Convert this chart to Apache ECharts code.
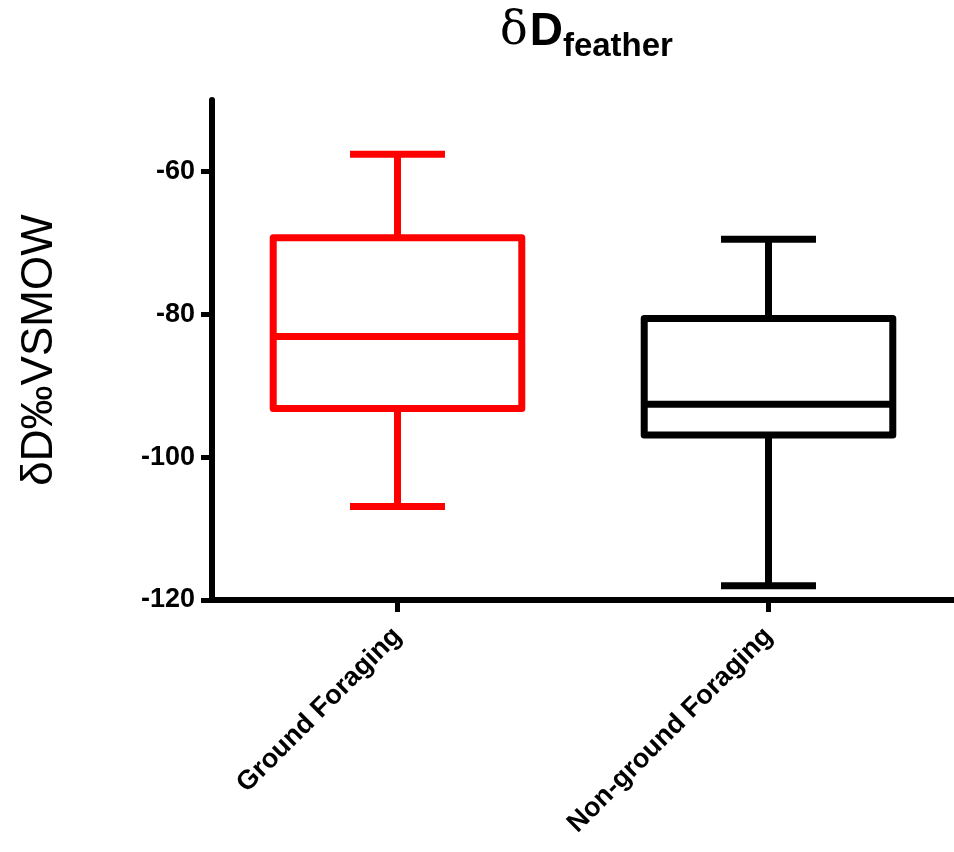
<!DOCTYPE html>
<html>
<head>
<meta charset="utf-8">
<title>δD feather</title>
<script src="https://cdn.jsdelivr.net/npm/echarts@6/dist/echarts.min.js"></script>
<style>
  html, body { margin: 0; padding: 0; background: #fff; }
  #chart { width: 954px; height: 852px; }
</style>
</head>
<body>
<div id="chart"></div>
<script>
// box plot values (per mil)
const categories = ["Ground Foraging", "Non-ground Foraging"];
const mins = [-106.9, -118.0];
const q1s = [-93.2, -96.9];
const medians = [-83.1, -92.6];
const q3s = [-69.3, -80.6];
const maxs = [-57.6, -69.5];
const yTicks = [-120, -100, -80, -60];

const boxColors = ["#ff0000", "#000000"];

const chart = echarts.init(document.getElementById("chart"));

function renderBox(params, api) {
  const i = api.value(0);
  const band = api.size([1, 0])[0];
  const half = band * 0.335;
  const capHalf = band * 0.128;
  const pMin = api.coord([i, api.value(1)]);
  const pQ1 = api.coord([i, api.value(2)]);
  const pMed = api.coord([i, api.value(3)]);
  const pQ3 = api.coord([i, api.value(4)]);
  const pMax = api.coord([i, api.value(5)]);
  const x = pMed[0];
  const style = {
    stroke: boxColors[params.dataIndex % boxColors.length],
    lineWidth: 7,
    fill: null,
  };
  return {
    type: "group",
    children: [
      {
        type: "rect",
        shape: { x: x - half, y: pQ3[1], width: half * 2, height: pQ1[1] - pQ3[1] },
        style: Object.assign({ lineJoin: "round" }, style),
      },
      { type: "line", shape: { x1: x - half, y1: pMed[1], x2: x + half, y2: pMed[1] }, style },
      { type: "line", shape: { x1: x, y1: pQ3[1], x2: x, y2: pMax[1] }, style },
      { type: "line", shape: { x1: x, y1: pQ1[1], x2: x, y2: pMin[1] }, style },
      { type: "line", shape: { x1: x - capHalf, y1: pMax[1], x2: x + capHalf, y2: pMax[1] }, style },
      { type: "line", shape: { x1: x - capHalf, y1: pMin[1], x2: x + capHalf, y2: pMin[1] }, style },
    ],
  };
}

const option = {
  backgroundColor: "#fff",
  animation: false,
  title: {
    text: "{d|δ}{D|D}{sub|feather}",
    left: 495,
    top: 0,
    textStyle: {
      rich: {
        d: {
          fontFamily: "DejaVu Serif",
          fontWeight: "normal",
          fontSize: 46,
          color: "#000",
          verticalAlign: "bottom",
          lineHeight: 60,
          padding: [0, 2, 10, 0],
        },
        D: {
          fontFamily: "Liberation Sans",
          fontWeight: "bold",
          fontSize: 46,
          color: "#000",
          verticalAlign: "bottom",
          lineHeight: 60,
          padding: [0, 0, 10, 0],
        },
        sub: {
          fontFamily: "Liberation Sans",
          fontWeight: "bold",
          fontSize: 33,
          color: "#000",
          verticalAlign: "bottom",
          lineHeight: 60,
          padding: [0, 0, 2, 0],
        },
      },
    },
  },
  grid: {
    left: 212,
    width: 748,
    top: 100,
    bottom: 252,
  },
  xAxis: {
    type: "category",
    data: categories,
    boundaryGap: true,
    axisLine: { lineStyle: { color: "#000", width: 6 } },
    axisTick: {
      show: true,
      interval: 0,
      alignWithLabel: true,
      length: 12,
      lineStyle: { color: "#000", width: 5 },
    },
    axisLabel: {
      rotate: 45,
      margin: 32,
      color: "#000",
      fontFamily: "Liberation Sans",
      fontWeight: "bold",
      fontSize: 27,
    },
    splitLine: { show: false },
  },
  yAxis: {
    type: "value",
    min: -120,
    max: -50,
    interval: 20,
    name: "δD‰VSMOW",
    nameLocation: "middle",
    nameRotate: 90,
    nameGap: 150,
    nameTextStyle: {
      color: "#000",
      fontFamily: "Liberation Sans",
      fontSize: 44,
    },
    axisLine: { show: true, lineStyle: { color: "#000", width: 6 } },
    axisTick: {
      show: true,
      length: 11,
      customValues: yTicks,
      lineStyle: { color: "#000", width: 5 },
    },
    axisLabel: {
      customValues: yTicks,
      margin: 17,
      color: "#000",
      fontFamily: "Liberation Sans",
      fontWeight: "bold",
      fontSize: 27,
    },
    splitLine: { show: false },
  },
  series: [
    {
      type: "custom",
      renderItem: renderBox,
      encode: { x: 0, y: [1, 2, 3, 4, 5] },
      data: categories.map((c, i) => [i, mins[i], q1s[i], medians[i], q3s[i], maxs[i]]),
    },
  ],
};

chart.setOption(option);
</script>
</body>
</html>
